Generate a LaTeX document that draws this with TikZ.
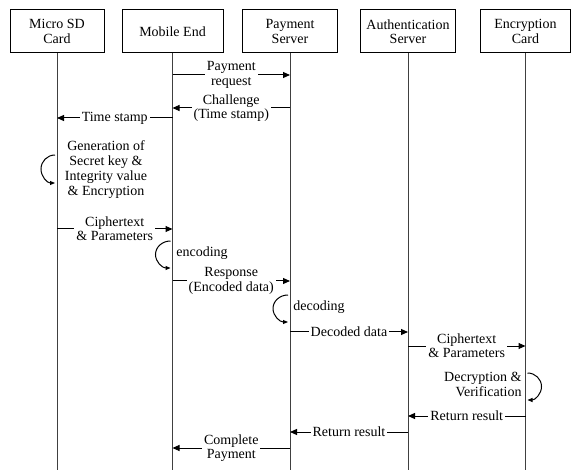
\documentclass[tikz,border=0pt]{standalone}
\usepackage{fontspec}
\setmainfont{Liberation Serif}
\usetikzlibrary{arrows.meta,positioning}

\begin{document}
\begin{tikzpicture}[x=0.5pt,y=-0.5pt,
    font=\fontsize{7}{7.2}\selectfont,
    actor/.style={draw,line width=0.5pt,minimum height=21.5pt,align=center,inner sep=1pt},
    life/.style={line width=0.5pt,black!75},
    msg/.style={line width=0.5pt,-{Triangle[length=3.5pt,width=3pt]}},
    lbl/.style={fill=white,align=center,inner sep=1pt},
    selfloop/.style={line width=0.5pt,-{Triangle[length=2.5pt,width=2pt]}},
    note/.style={inner sep=1pt,font=\fontsize{7}{7.5}\selectfont}]
  \useasboundingbox (0,0) rectangle (573,470);

  % participants
  \node[actor,minimum width=47pt] (sd) at (57,31.5) {Micro SD\\Card};
  \node[actor,minimum width=50.5pt] (mob) at (172.5,31.5) {Mobile End};
  \node[actor,minimum width=47.5pt] (pay) at (290,31.5) {Payment\\Server};
  \node[actor,minimum width=47.5pt] (auth) at (408,31.5) {Authentication\\Server};
  \node[actor,minimum width=45pt] (enc) at (525.5,31.5) {Encryption\\Card};

  % lifelines
  \foreach \n in {sd,mob,pay,auth,enc}
    \draw[life] (\n.south) -- (\n.south |- 0,470);

  % messages
  \draw[msg] (mob |- 0,75) -- node[lbl] {Payment\\request} (pay |- 0,75);
  \draw[msg] (pay |- 0,108) -- node[lbl] {Challenge\\(Time stamp)} (mob |- 0,108);
  \draw[msg] (mob |- 0,118) -- node[lbl] {Time stamp} (sd |- 0,118);

  \draw[selfloop] ([xshift=-1pt]sd |- 0,155) arc[start angle=270,end angle=90,x radius=14,y radius=14];
  \node[note,align=center] (gen) at (106,169.5) {Generation of\\Secret key \&\\Integrity value\\\& Encryption};

  \draw[msg] (sd |- 0,229) -- node[lbl] {Ciphertext\\\& Parameters} (mob |- 0,229);

  \draw[selfloop] ([xshift=-1pt]mob |- 0,241) arc[start angle=270,end angle=90,x radius=15,y radius=13.5];
  \node[note,anchor=west] (encd) at (174,253) {encoding};

  \draw[msg] (mob |- 0,281) -- node[lbl] {Response\\(Encoded data)} (pay |- 0,281);

  \draw[selfloop] ([xshift=-1pt]pay |- 0,295) arc[start angle=270,end angle=90,x radius=15,y radius=13.5];
  \node[note,anchor=west] (decd) at (291,307) {decoding};

  \draw[msg] (pay |- 0,332) -- node[lbl] {Decoded data} (auth |- 0,332);
  \draw[msg] (auth |- 0,346) -- node[lbl] {Ciphertext\\\& Parameters} (enc |- 0,346);

  \draw[selfloop] ([xshift=1pt]enc |- 0,373) arc[start angle=-90,end angle=90,x radius=14,y radius=13.5];
  \node[note,anchor=east,align=right] (dec) at (524,384) {Decryption \&\\Verification};

  \draw[msg] (enc |- 0,416) -- node[lbl] {Return result} (auth |- 0,416);
  \draw[msg] (auth |- 0,432) -- node[lbl] {Return result} (pay |- 0,432);
  \draw[msg] (pay |- 0,448) -- node[lbl] {Complete\\Payment} (mob |- 0,448);
\end{tikzpicture}
\end{document}
